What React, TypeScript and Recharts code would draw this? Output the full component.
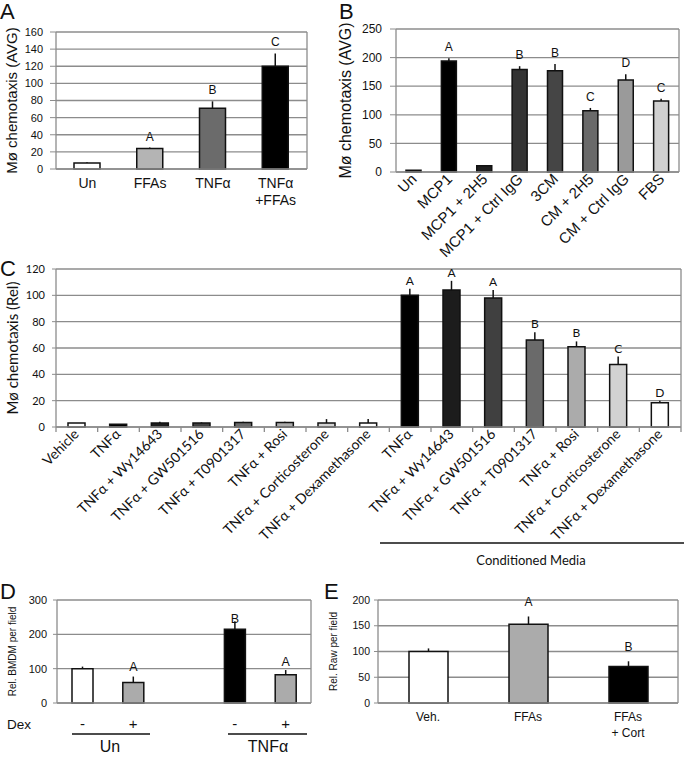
import type { ReactElement } from 'react';
import { Bar, BarChart, CartesianGrid, Cell, ErrorBar, LabelList, XAxis, YAxis } from 'recharts';

const ARIAL = '"Liberation Sans", Arial, sans-serif';
const CALIBRI = 'Lato, "Open Sans", sans-serif';
const INK = '#111';
const GRID = '#8c8c8c';

// panel A
const aNames = ['Un', 'FFAs', 'TNFα', 'TNFα\n+FFAs'];
const aValues = [7, 24, 71, 120];
const aErrors = [1, 1, 8, 15];
const aLetters = ['', 'A', 'B', 'C'];
const aFills = ['#ffffff', '#b4b4b4', '#6b6b6b', '#000000'];
const aTicks = [0, 20, 40, 60, 80, 100, 120, 140, 160];

// panel B
const bNames = ['Un', 'MCP1', 'MCP1 + 2H5', 'MCP1 + Ctrl IgG', '3CM', 'CM + 2H5', 'CM + Ctrl IgG', 'FBS'];
const bValues = [3, 194, 11, 179, 177, 107, 161, 124];
const bErrors = [0, 5, 0, 6, 12, 5, 10, 4];
const bLetters = ['', 'A', '', 'B', 'B', 'C', 'D', 'C'];
const bFills = ['#3a3a3a', '#000000', '#1e1e1e', '#333333', '#454545', '#6a6a6a', '#9a9a9a', '#d0d0d0'];
const bTicks = [0, 50, 100, 150, 200, 250];

// panel C (first 8 plain, last 7 conditioned media)
const cNames = [
  'Vehicle', 'TNFα', 'TNFα + Wy14643', 'TNFα + GW501516', 'TNFα + T0901317', 'TNFα + Rosi',
  'TNFα + Corticosterone', 'TNFα + Dexamethasone',
  'TNFα', 'TNFα + Wy14643', 'TNFα + GW501516', 'TNFα + T0901317', 'TNFα + Rosi',
  'TNFα + Corticosterone', 'TNFα + Dexamethasone',
];
const cValues = [3, 2, 3, 3, 3.5, 3.5, 3, 3, 100, 104, 98, 66, 61, 47.5, 18.5];
const cErrors = [0, 0, 1, 0.5, 0.5, 0.5, 3, 3, 5, 7, 6, 6, 4, 6, 1.5];
const cLetters = ['', '', '', '', '', '', '', '', 'A', 'A', 'A', 'B', 'B', 'C', 'D'];
const cFills = [
  '#ffffff', '#000000', '#1c1c1c', '#404040', '#6a6a6a', '#ababab', '#d2d2d2', '#ffffff',
  '#000000', '#1c1c1c', '#404040', '#6a6a6a', '#ababab', '#d2d2d2', '#ffffff',
];
const cTicks = [0, 20, 40, 60, 80, 100, 120];

// panel D (third slot is the gap between groups)
const dNames = ['-', '+', '', '-', '+'];
const dValues = [100, 60, 0, 215, 82];
const dErrors = [6, 17, 0, 23, 14];
const dLetters = ['', 'A', '', 'B', 'A'];
const dFills = ['#ffffff', '#ababab', 'none', '#000000', '#ababab'];
const dTicks = [0, 100, 200, 300];

// panel E
const eNames = ['Veh.', 'FFAs', 'FFAs\n+ Cort'];
const eValues = [100, 153, 71];
const eErrors = [6, 15, 10];
const eLetters = ['', 'A', 'B'];
const eFills = ['#ffffff', '#ababab', '#000000'];
const eTicks = [0, 50, 100, 150, 200];

function stackedTick(names: string[], size: number, first: number, gap: number) {
  return (tp: any) => {
    const lines = names[tp.payload.value].split('\n');
    return (
      <text x={tp.x} y={tp.y + first} textAnchor="middle" fontSize={size} fontFamily={ARIAL} fill={INK}>
        {lines.map((l, i) => (
          <tspan key={i} x={tp.x} dy={i ? gap : 0}>{l}</tspan>
        ))}
      </text>
    );
  };
}

function slantTick(names: string[], size: number, dx: number, dy: number, family: string, band: number) {
  return (tp: any) => {
    const tx = tp.x + dx;
    const ty = tp.y + dy;
    const last = tp.payload.value === names.length - 1;
    return (
      <g>
        {band ? <line x1={tp.x - band / 2} x2={tp.x - band / 2} y1={tp.y} y2={tp.y + 5} stroke={GRID} strokeWidth={1.3} /> : null}
        {band && last ? <line x1={tp.x + band / 2} x2={tp.x + band / 2} y1={tp.y} y2={tp.y + 5} stroke={GRID} strokeWidth={1.3} /> : null}
        <text x={tx} y={ty} textAnchor="end" transform={`rotate(-45 ${tx} ${ty})`} fontSize={size} fontFamily={family} fill={INK}>
          {names[tp.payload.value]}
        </text>
      </g>
    );
  };
}

function Letter(props: any) {
  const { value, index, values, errors, gap, size, family } = props;
  if (!value) return null;
  const vb = props.viewBox && props.viewBox.width !== undefined ? props.viewBox : props;
  const v = values[index];
  const h = Math.abs(vb.height);
  const errPx = v ? (h / v) * errors[index] : 0;
  const top = Math.min(vb.y, vb.y + vb.height);
  return (
    <text x={vb.x + vb.width / 2} y={top - errPx - gap} textAnchor="middle" fontSize={size} fontFamily={family} fill={INK}>
      {value}
    </text>
  );
}

type PanelProps = {
  box: number[];
  names: string[];
  values: number[];
  errors: number[];
  letters: string[];
  fills: string[];
  ticks: number[];
  yLabel: string;
  yLabelSize: number;
  yLabelX: number;
  yAxisWidth: number;
  tickFont: number;
  tickSize: number;
  tickMargin: number;
  mTop: number;
  mRight: number;
  xHeight: number;
  barSize: number;
  family: string;
  letterSize: number;
  letterGap: number;
  xTick: (p: any) => ReactElement;
};

function Panel(p: PanelProps) {
  const data = p.names.map((name, i) => ({ id: i, name, value: p.values[i], err: [0, p.errors[i]], letter: p.letters[i] }));
  const max = p.ticks[p.ticks.length - 1];
  return (
    <div style={{ position: 'absolute', left: p.box[0], top: p.box[1] }}>
      <BarChart width={p.box[2]} height={p.box[3]} data={data} margin={{ top: p.mTop, right: p.mRight, bottom: 0, left: 0 }}>
        <CartesianGrid
          stroke={GRID}
          strokeWidth={1.3}
          verticalCoordinatesGenerator={(g: any) => (g && g.offset ? [g.offset.left, g.offset.left + g.offset.width] : [])}
        />
        <XAxis
          dataKey="id"
          type="category"
          interval={0}
          height={p.xHeight}
          tickSize={0}
          tickMargin={0}
          tickLine={false}
          axisLine={{ stroke: GRID, strokeWidth: 1.3 }}
          tick={p.xTick}
        />
        <YAxis
          type="number"
          domain={[0, max]}
          ticks={p.ticks}
          interval={0}
          width={p.yAxisWidth}
          axisLine={false}
          tickSize={p.tickSize}
          tickMargin={p.tickMargin}
          tickLine={{ stroke: GRID }}
          tick={{ fontSize: p.tickFont, fontFamily: p.family, fill: INK }}
          label={{
            value: p.yLabel,
            angle: -90,
            position: 'insideLeft',
            offset: p.yLabelX,
            style: { textAnchor: 'middle', fontSize: p.yLabelSize, fontFamily: p.family, fill: INK },
          }}
        />
        <Bar dataKey="value" barSize={p.barSize} stroke={INK} strokeWidth={1.5} isAnimationActive={false}>
          {data.map((d, i) => (
            <Cell key={d.id} fill={p.fills[i]} stroke={p.fills[i] === 'none' ? 'none' : INK} />
          ))}
          <ErrorBar dataKey="err" width={0} stroke={INK} strokeWidth={1.5} direction="y" />
          <LabelList
            dataKey="letter"
            content={(lp: any) => (
              <Letter {...lp} values={p.values} errors={p.errors} gap={p.letterGap} size={p.letterSize} family={p.family} />
            )}
          />
        </Bar>
      </BarChart>
    </div>
  );
}

export default function App() {
  return (
    <div style={{ position: 'absolute', left: 0, top: 0, width: 685, height: 757, background: '#fff', overflow: 'hidden' }}>
      <Panel
        box={[0, 0, 320, 215]}
        names={aNames} values={aValues} errors={aErrors} letters={aLetters} fills={aFills} ticks={aTicks}
        yLabel="Mø chemotaxis (AVG)" yLabelSize={15} yLabelX={12} yAxisWidth={56}
        tickFont={11} tickSize={6} tickMargin={7}
        mTop={32} mRight={13} xHeight={46} barSize={26} family={ARIAL} letterSize={12} letterGap={7}
        xTick={stackedTick(aNames, 14, 19, 17)}
      />
      <Panel
        box={[330, 0, 355, 268]}
        names={bNames} values={bValues} errors={bErrors} letters={bLetters} fills={bFills} ticks={bTicks}
        yLabel="Mø chemotaxis (AVG)" yLabelSize={16} yLabelX={15} yAxisWidth={66}
        tickFont={12} tickSize={6} tickMargin={8}
        mTop={29} mRight={6} xHeight={96} barSize={15} family={ARIAL} letterSize={12} letterGap={7}
        xTick={slantTick(bNames, 15, 4, 8, ARIAL, 0)}
      />
      <Panel
        box={[0, 230, 685, 340]}
        names={cNames} values={cValues} errors={cErrors} letters={cLetters} fills={cFills} ticks={cTicks}
        yLabel="Mø chemotaxis (Rel)" yLabelSize={15} yLabelX={13} yAxisWidth={56}
        tickFont={11} tickSize={4} tickMargin={7}
        mTop={39} mRight={4} xHeight={143} barSize={17} family={CALIBRI} letterSize={12} letterGap={4}
        xTick={slantTick(cNames, 14, 3, 8, CALIBRI, 625 / 15)}
      />
      <Panel
        box={[0, 578, 320, 179]}
        names={dNames} values={dValues} errors={dErrors} letters={dLetters} fills={dFills} ticks={dTicks}
        yLabel="Rel. BMDM per field" yLabelSize={10} yLabelX={12} yAxisWidth={57}
        tickFont={11} tickSize={4} tickMargin={6}
        mTop={22} mRight={9} xHeight={54} barSize={21} family={ARIAL} letterSize={12.5} letterGap={6}
        xTick={stackedTick(dNames, 15, 26, 0)}
      />
      <Panel
        box={[320, 578, 365, 179]}
        names={eNames} values={eValues} errors={eErrors} letters={eLetters} fills={eFills} ticks={eTicks}
        yLabel="Rel. Raw per field" yLabelSize={10} yLabelX={13} yAxisWidth={58}
        tickFont={10.5} tickSize={4} tickMargin={4}
        mTop={22} mRight={7} xHeight={54} barSize={39} family={ARIAL} letterSize={12} letterGap={10}
        xTick={stackedTick(eNames, 12, 18, 16)}
      />
      <svg width={685} height={757} style={{ position: 'absolute', left: 0, top: 0, pointerEvents: 'none' }}>
        <g fontFamily={ARIAL} fontSize={22} fill={INK}>
          <text x={0} y={19}>A</text>
          <text x={339} y={19}>B</text>
          <text x={0} y={276}>C</text>
          <text x={0} y={599}>D</text>
          <text x={324} y={599}>E</text>
        </g>
        <line x1={380} x2={684} y1={543} y2={543} stroke={INK} strokeWidth={1.5} />
        <text x={531} y={565} textAnchor="middle" fontFamily={CALIBRI} fontSize={13} fill={INK}>Conditioned Media</text>
        <text x={7} y={729} fontFamily={ARIAL} fontSize={13.5} fill={INK}>Dex</text>
        <line x1={72} x2={150} y1={734} y2={734} stroke={INK} strokeWidth={1.5} />
        <line x1={228} x2={307} y1={734} y2={734} stroke={INK} strokeWidth={1.5} />
        <text x={110} y={752} textAnchor="middle" fontFamily={ARIAL} fontSize={16} fill={INK}>Un</text>
        <text x={268} y={752} textAnchor="middle" fontFamily={ARIAL} fontSize={16} fill={INK}>TNFα</text>
      </svg>
    </div>
  );
}
